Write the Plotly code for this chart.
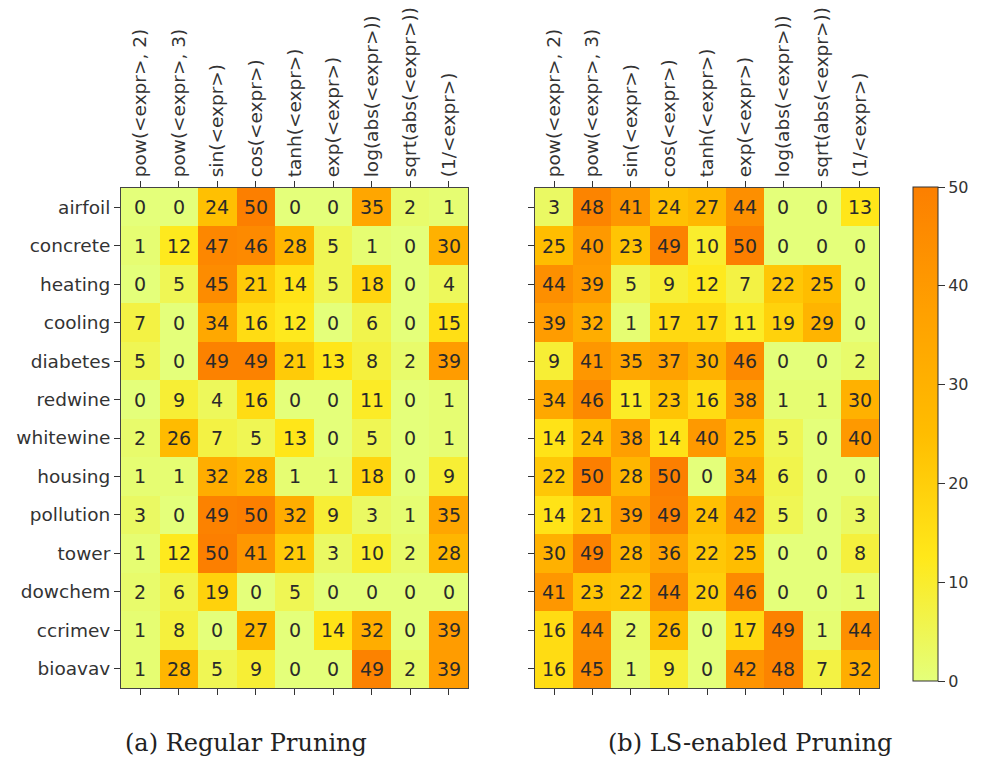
import plotly.graph_objects as go

datasets = ["airfoil", "concrete", "heating", "cooling", "diabetes", "redwine",
            "whitewine", "housing", "pollution", "tower", "dowchem", "ccrimev", "bioavav"]
functions = ["pow(<expr>, 2)", "pow(<expr>, 3)", "sin(<expr>)", "cos(<expr>)",
             "tanh(<expr>)", "exp(<expr>)", "log(abs(<expr>))", "sqrt(abs(<expr>))", "(1/<expr>)"]

regular = [
    [0, 0, 24, 50, 0, 0, 35, 2, 1],
    [1, 12, 47, 46, 28, 5, 1, 0, 30],
    [0, 5, 45, 21, 14, 5, 18, 0, 4],
    [7, 0, 34, 16, 12, 0, 6, 0, 15],
    [5, 0, 49, 49, 21, 13, 8, 2, 39],
    [0, 9, 4, 16, 0, 0, 11, 0, 1],
    [2, 26, 7, 5, 13, 0, 5, 0, 1],
    [1, 1, 32, 28, 1, 1, 18, 0, 9],
    [3, 0, 49, 50, 32, 9, 3, 1, 35],
    [1, 12, 50, 41, 21, 3, 10, 2, 28],
    [2, 6, 19, 0, 5, 0, 0, 0, 0],
    [1, 8, 0, 27, 0, 14, 32, 0, 39],
    [1, 28, 5, 9, 0, 0, 49, 2, 39],
]

ls_enabled = [
    [3, 48, 41, 24, 27, 44, 0, 0, 13],
    [25, 40, 23, 49, 10, 50, 0, 0, 0],
    [44, 39, 5, 9, 12, 7, 22, 25, 0],
    [39, 32, 1, 17, 17, 11, 19, 29, 0],
    [9, 41, 35, 37, 30, 46, 0, 0, 2],
    [34, 46, 11, 23, 16, 38, 1, 1, 30],
    [14, 24, 38, 14, 40, 25, 5, 0, 40],
    [22, 50, 28, 50, 0, 34, 6, 0, 0],
    [14, 21, 39, 49, 24, 42, 5, 0, 3],
    [30, 49, 28, 36, 22, 25, 0, 0, 8],
    [41, 23, 22, 44, 20, 46, 0, 0, 1],
    [16, 44, 2, 26, 0, 17, 49, 1, 44],
    [16, 45, 1, 9, 0, 42, 48, 7, 32],
]

captions = ["(a) Regular Pruning", "(b) LS-enabled Pruning"]
cbar_ticks = [0, 10, 20, 30, 40, 50]

W, H = 988, 760
OFF = 8  # page body margin


def px(x):
    return (x - OFF) / W


def py(y):
    return 1 - (y - OFF) / H


wistia = [[0.0, "#e4ff7a"], [0.25, "#ffe81a"], [0.5, "#ffbd00"],
          [0.75, "#ffa000"], [1.0, "#fc7f00"]]
cellfont = dict(size=19, color="#2a2a2a", family="DejaVu Sans")
tickfont = dict(size=18.5, color="#333", family="DejaVu Sans")

fig = go.Figure()
fig.add_trace(go.Heatmap(
    z=regular, x=functions, y=datasets, xaxis="x", yaxis="y",
    colorscale=wistia, zmin=0, zmax=50, showscale=False,
    texttemplate="%{z}", textfont=cellfont, hoverinfo="z"))
fig.add_trace(go.Heatmap(
    z=ls_enabled, x=functions, y=datasets, xaxis="x2", yaxis="y2",
    colorscale=wistia, zmin=0, zmax=50,
    texttemplate="%{z}", textfont=cellfont,
    colorbar=dict(x=px(913), xanchor="left", xpad=0, ypad=0,
                  y=py(187), yanchor="top", len=494, lenmode="pixels",
                  thickness=25, outlinecolor="#333", outlinewidth=1,
                  tickvals=cbar_ticks, ticks="outside", ticklen=7,
                  tickcolor="#333",
                  tickfont=dict(size=16, color="#333", family="DejaVu Sans")),
    hoverinfo="z"))

ydom = [py(688), py(188)]
xcommon = dict(side="top", tickangle=-90, ticks="outside", ticklen=6,
               tickcolor="#333", showline=True, linecolor="#444", linewidth=1,
               mirror="ticks", tickfont=tickfont, automargin=False,
               showgrid=False, zeroline=False)
ycommon = dict(autorange="reversed", ticks="outside", ticklen=6, tickcolor="#333",
               showline=True, linecolor="#444", linewidth=1, mirror=True,
               tickfont=tickfont, automargin=False, showgrid=False,
               zeroline=False, domain=ydom)

fig.update_layout(
    width=W, height=H, margin=dict(l=0, r=0, t=0, b=0),
    paper_bgcolor="white", plot_bgcolor="white",
    xaxis=dict(domain=[px(121), px(468)], anchor="y", **xcommon),
    yaxis=dict(anchor="x", **ycommon),
    xaxis2=dict(domain=[px(535), px(879)], anchor="y2", **xcommon),
    yaxis2=dict(anchor="x2", showticklabels=False, **ycommon),
    annotations=[
        dict(text=captions[0], x=px(246), y=py(743), xref="paper", yref="paper",
             xanchor="center", yanchor="middle", showarrow=False,
             font=dict(size=24, family="DejaVu Serif", color="#222")),
        dict(text=captions[1], x=px(750), y=py(743), xref="paper", yref="paper",
             xanchor="center", yanchor="middle", showarrow=False,
             font=dict(size=24, family="DejaVu Serif", color="#222")),
    ],
)

fig.write_html("out.html")
